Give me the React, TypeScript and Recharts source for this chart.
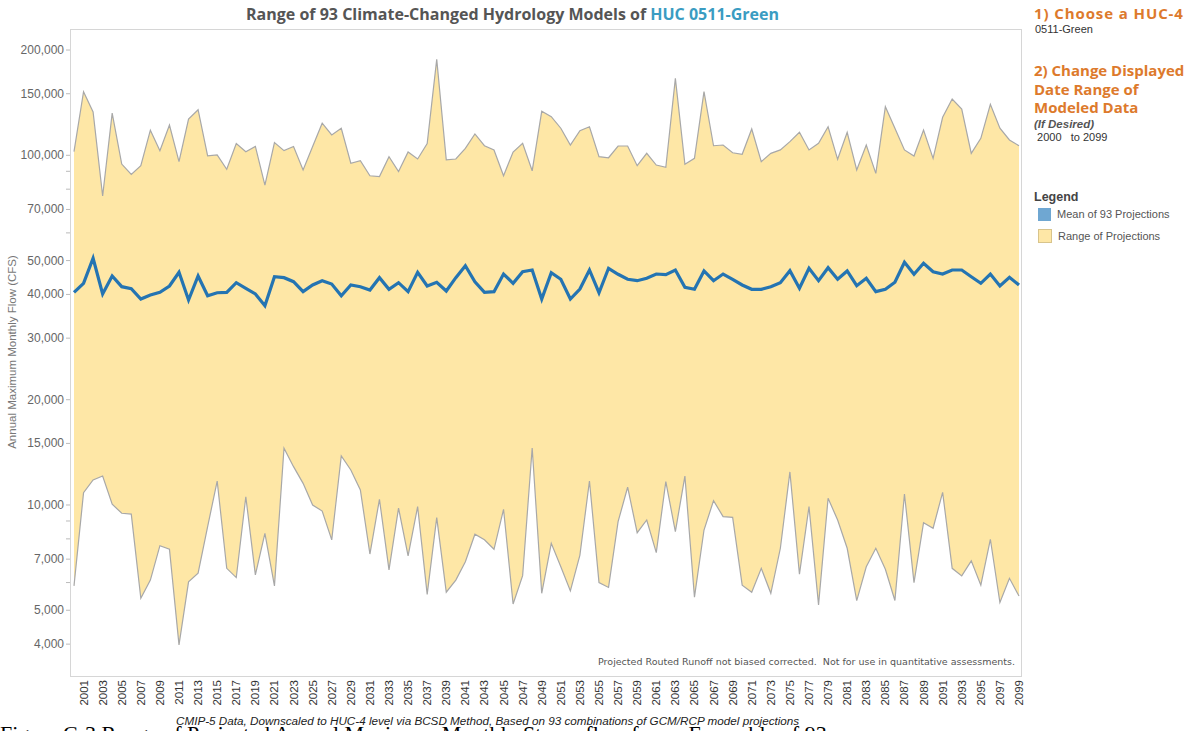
import React from "react";
import { ComposedChart, Area, Line, XAxis, YAxis } from "recharts";

// annual values, 2000 to 2099
const years = Array.from({ length: 100 }, (_, i) => 2000 + i);

const maxFlow = [
  102400, 152000, 133000, 76500, 132000, 94400, 88200, 93400, 118000, 103000,
  122000, 95900, 127000, 135000, 99700, 100200, 91200, 108000, 102400, 106000,
  82200, 108700, 103100, 106000, 90800, 106000, 123500, 114300, 119500, 94900,
  96500, 87400, 86900, 99100, 89800, 102200, 97600, 108000, 188000, 97000,
  97600, 104700, 115100, 106500, 103600, 87400, 102200, 108200, 90300, 133600,
  129000, 119500, 107000, 117600, 120700, 99100, 98400, 106300, 106300, 93400,
  101300, 93800, 92400, 166000, 94300, 98000, 152000, 106500, 107000, 101700,
  100700, 118900, 95900, 101300, 103600, 109400, 116400, 103600, 108200, 120700,
  97400, 116400, 90800, 107000, 88800, 137700, 119500, 103600, 99500, 118000,
  98000, 128400, 144900, 135600, 101300, 111800, 139900, 119500, 110600, 106500,
];

const meanFlow = [
  40570, 43050, 50770, 40120, 45170, 42100, 41550, 38820, 39850, 40570,
  42290, 46280, 38570, 45170, 39670, 40460, 40570, 43220, 41660, 40120,
  37150, 44960, 44670, 43500, 40740, 42570, 43790, 42850, 39670, 42570,
  42100, 41190, 44670, 41380, 43220, 40740, 46280, 42290, 43330, 40920,
  44670, 48330, 43500, 40570, 40740, 45760, 43050, 46460, 46990, 38820,
  46160, 44200, 38820, 41460, 46990, 40460, 47520, 45680, 44200, 43790,
  44490, 45760, 45560, 46990, 41930, 41380, 46680, 43790, 45760, 44200,
  42570, 41380, 41380, 42100, 43220, 46770, 41660, 47520, 43790, 47710,
  44200, 46680, 42380, 44490, 40740, 41380, 43330, 49430, 45680, 49110,
  46460, 45760, 46990, 46990, 44960, 43050, 45760, 42290, 44780, 42570,
];

const minFlow = [
  5870, 10840, 11790, 12100, 10050, 9470, 9420, 5410, 6100, 7650,
  7480, 3980, 6030, 6380, 8670, 11710, 6590, 6200, 10560, 6310,
  8300, 5870, 14530, 12870, 11530, 10000, 9610, 7950, 13810, 12590,
  11040, 7240, 10380, 6520, 9800, 7150, 9890, 5550, 9200, 5630,
  6100, 6880, 8250, 7950, 7470, 9720, 5210, 6280, 14550, 5590,
  7770, 6660, 5680, 7190, 11710, 6000, 5810, 8960, 11240, 8330,
  9060, 7310, 11660, 8390, 12100, 5450, 8480, 10290, 9260, 9220,
  5900, 5630, 6590, 5590, 7520, 12430, 6340, 9890, 5180, 10450,
  9060, 7520, 5330, 6660, 7520, 6550, 5330, 10750, 6000, 8900,
  8580, 10870, 6590, 6270, 6920, 5900, 7980, 5260, 6170, 5490,
];

const yearTicks = years.filter((y) => y % 2 === 1);
const flowTicks = [
  4000, 5000, 6000, 7000, 8000, 9000, 10000, 15000, 20000, 30000, 40000,
  50000, 60000, 70000, 80000, 90000, 100000, 150000, 200000,
];
const labelledTicks = [
  4000, 5000, 7000, 10000, 15000, 20000, 30000, 40000, 50000, 70000, 100000,
  150000, 200000,
];

const data = years.map((year, i) => ({
  year,
  max: maxFlow[i],
  mean: meanFlow[i],
  min: minFlow[i],
  range: [minFlow[i], maxFlow[i]],
}));

const FlowTick = (props: any) => {
  const { x, y, payload } = props;
  if (!labelledTicks.includes(payload.value)) return null;
  return (
    <text
      x={x}
      y={y}
      dy={4}
      textAnchor="end"
      fontSize={12}
      fill="#666"
      fontFamily="Liberation Sans, Arial, sans-serif"
    >
      {payload.value.toLocaleString("en-US")}
    </text>
  );
};

const YearTick = (props: any) => {
  const { x, payload } = props;
  const y = 680;
  return (
    <text
      x={x}
      y={y}
      dy={4}
      transform={`rotate(-90 ${x} ${y})`}
      textAnchor="end"
      fontSize={11.5}
      fill="#333"
      fontFamily="Liberation Sans, Arial, sans-serif"
    >
      {payload.value}
    </text>
  );
};

const sans = "Liberation Sans, Arial, sans-serif";
const heading = "Open Sans, DejaVu Sans, sans-serif";
const orange = "#dd7a2c";

export default function App() {
  return (
    <div
      style={{
        position: "absolute",
        left: 0,
        top: 0,
        width: 1189,
        height: 731,
        background: "#fff",
        overflow: "hidden",
      }}
    >
      <ComposedChart
        width={1189}
        height={731}
        data={data}
        margin={{ top: 30, right: 168, bottom: 0, left: 0 }}
      >
        <XAxis
          dataKey="year"
          type="number"
          domain={[2000, 2099]}
          padding={{ left: 3, right: 2 }}
          ticks={yearTicks}
          interval={0}
          tick={<YearTick />}
          tickLine={false}
          axisLine={false}
          height={55}
        />
        <YAxis
          scale="log"
          domain={[3243, 228200]}
          allowDataOverflow
          ticks={flowTicks}
          interval={0}
          tick={<FlowTick />}
          tickSize={5}
          tickMargin={2}
          tickLine={{ stroke: "#bbb" }}
          axisLine={false}
          width={71}
        />
        <Area
          dataKey="range"
          stroke="none"
          fill="#fee7a6"
          fillOpacity={1}
          isAnimationActive={false}
        />
        <Line
          dataKey="max"
          stroke="#a8a8a8"
          strokeWidth={1.2}
          dot={false}
          isAnimationActive={false}
        />
        <Line
          dataKey="min"
          stroke="#a8a8a8"
          strokeWidth={1.2}
          dot={false}
          isAnimationActive={false}
        />
        <Line
          dataKey="mean"
          stroke="#2474b2"
          strokeWidth={3.2}
          dot={false}
          isAnimationActive={false}
        />
      </ComposedChart>

      {/* plot frame */}
      <div
        style={{
          position: "absolute",
          left: 70,
          top: 29,
          width: 950,
          height: 646,
          border: "1px solid #d6d6d6",
          pointerEvents: "none",
        }}
      />

      {/* title */}
      <div
        style={{
          position: "absolute",
          left: 0,
          width: 1025,
          top: 3,
          textAlign: "center",
          fontFamily: heading,
          fontWeight: 700,
          fontSize: 16,
          lineHeight: "22px",
          color: "#555",
          whiteSpace: "nowrap",
        }}
      >
        Range of 93 Climate-Changed Hydrology Models of{" "}
        <span style={{ color: "#3a9cc2" }}>HUC 0511-Green</span>
      </div>

      <div
        style={{
          position: "absolute",
          left: 2,
          top: 352,
          width: 0,
          height: 0,
        }}
      >
        <div
          style={{
            position: "absolute",
            left: 0,
            top: 0,
            transform: "translate(-50%, -50%) rotate(-90deg)",
            transformOrigin: "center",
            marginLeft: 10,
            fontFamily: sans,
            fontSize: 11.5,
            color: "#777",
            whiteSpace: "nowrap",
          }}
        >
          Annual Maximum Monthly Flow (CFS)
        </div>
      </div>

      {/* note inside plot */}
      <div
        style={{
          position: "absolute",
          right: 1189 - 1015,
          top: 656,
          fontFamily: "DejaVu Sans, sans-serif",
          fontSize: 9.5,
          color: "#555",
          whiteSpace: "pre",
        }}
      >
        {"Projected Routed Runoff not biased corrected.  Not for use in quantitative assessments."}
      </div>

      {/* caption */}
      <div
        style={{
          position: "absolute",
          left: 176,
          top: 714,
          fontFamily: sans,
          fontStyle: "italic",
          fontSize: 11.7,
          lineHeight: "13px",
          color: "#222",
          whiteSpace: "nowrap",
        }}
      >
        CMIP-5 Data, Downscaled to HUC-4 level via BCSD Method, Based on 93
        combinations of GCM/RCP model projections
      </div>

      <div
        style={{
          position: "absolute",
          left: 0,
          top: 727,
          fontFamily: "Liberation Serif, Times New Roman, serif",
          fontSize: 22,
          color: "#000",
          whiteSpace: "nowrap",
          lineHeight: "14px",
        }}
      >
        Figure C-3 Range of Projected Annual Maximum Monthly Streamflow for an
        Ensemble of 93
      </div>

      {/* right panel */}
      <div
        style={{
          position: "absolute",
          left: 1034,
          top: 3,
          width: 160,
          fontFamily: heading,
        }}
      >
        <div
          style={{
            color: orange,
            fontWeight: 700,
            fontSize: 15,
            letterSpacing: 0.9,
            lineHeight: "20px",
            whiteSpace: "nowrap",
          }}
        >
          1) Choose a HUC-4
        </div>
        <div
          style={{
            fontFamily: sans,
            fontSize: 11,
            color: "#333",
            lineHeight: "13px",
            marginLeft: 1,
          }}
        >
          0511-Green
        </div>
        <div
          style={{
            color: orange,
            fontWeight: 700,
            fontSize: 15,
            lineHeight: "18.5px",
            marginTop: 25,
            whiteSpace: "nowrap",
          }}
        >
          2) Change Displayed
          <br />
          Date Range of
          <br />
          Modeled Data
        </div>
        <div
          style={{
            fontFamily: sans,
            fontSize: 11.5,
            fontWeight: 700,
            fontStyle: "italic",
            color: "#555",
            lineHeight: "14px",
          }}
        >
          (If Desired)
        </div>
        <div
          style={{
            fontFamily: sans,
            fontSize: 11,
            color: "#333",
            lineHeight: "13px",
            whiteSpace: "pre",
          }}
        >
          {" 2000   to 2099"}
        </div>
        <div
          style={{
            fontFamily: sans,
            fontSize: 12.5,
            fontWeight: 700,
            color: "#444",
            marginTop: 46,
            lineHeight: "15px",
          }}
        >
          Legend
        </div>
        <div
          style={{
            display: "flex",
            alignItems: "center",
            marginTop: 3,
            marginLeft: 4,
          }}
        >
          <div
            style={{
              width: 13,
              height: 13,
              background: "#6fa7d2",
              marginRight: 6,
            }}
          />
          <span style={{ fontFamily: sans, fontSize: 11, color: "#555" }}>
            Mean of 93 Projections
          </span>
        </div>
        <div
          style={{
            display: "flex",
            alignItems: "center",
            marginTop: 8,
            marginLeft: 4,
          }}
        >
          <div
            style={{
              width: 12,
              height: 12,
              background: "#fee7a6",
              border: "1px solid #d8c48c",
              marginRight: 6,
            }}
          />
          <span style={{ fontFamily: sans, fontSize: 11, color: "#555" }}>
            Range of Projections
          </span>
        </div>
      </div>
    </div>
  );
}
